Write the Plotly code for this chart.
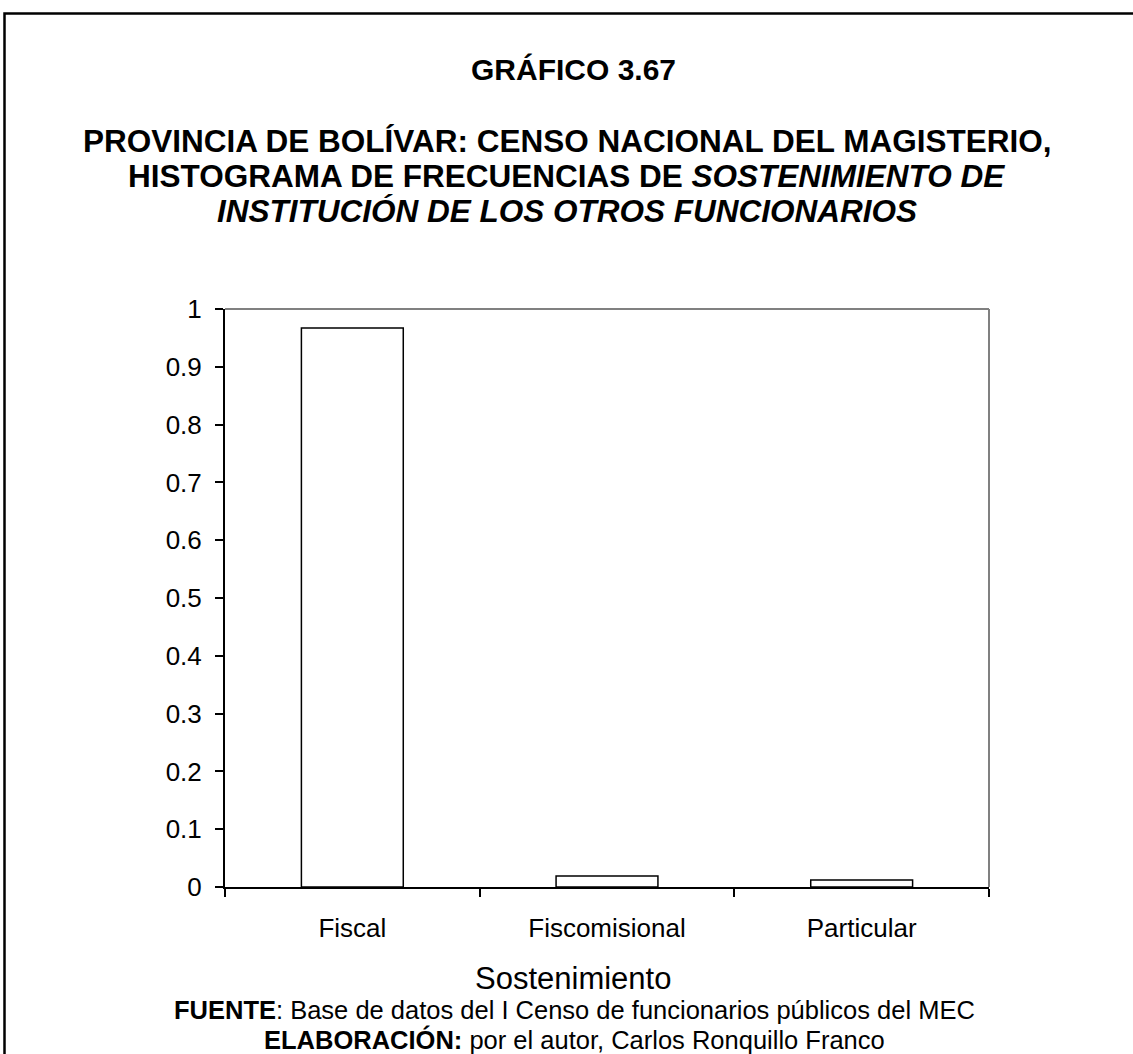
import plotly.graph_objects as go

categories = ["Fiscal", "Fiscomisional", "Particular"]
frequencies = [0.967, 0.019, 0.012]
y_ticks = [0, 0.1, 0.2, 0.3, 0.4, 0.5, 0.6, 0.7, 0.8, 0.9, 1]
y_tick_labels = ["0", "0.1", "0.2", "0.3", "0.4", "0.5", "0.6", "0.7", "0.8", "0.9", "1"]

W, H = 1133, 1054
L, R, T, B = 225, 989, 309, 887
FONT = "Liberation Sans, Arial, sans-serif"

def px(x):
    return (x - L) / (R - L)

def py(y):
    return (B - y) / (B - T)

fig = go.Figure()
fig.add_trace(go.Bar(
    x=categories, y=frequencies, width=0.4,
    marker=dict(color="white", line=dict(color="black", width=1.5)),
    showlegend=False, hoverinfo="x+y",
))

fig.update_layout(
    width=W, height=H,
    margin=dict(l=L, r=W - R, t=T, b=H - B, pad=0),
    paper_bgcolor="white", plot_bgcolor="white",
    font=dict(family=FONT, color="black", size=26),
    xaxis=dict(
        range=[-0.5, 2.5], showgrid=False, zeroline=False,
        showline=True, linecolor="black", linewidth=2,
        ticks="outside", tickson="boundaries", ticklen=8, tickcolor="black", tickwidth=1.5,
        tickfont=dict(size=26, family=FONT), ticklabelstandoff=17,
    ),
    yaxis=dict(
        range=[0, 1], showgrid=False, zeroline=False,
        showline=True, linecolor="black", linewidth=2,
        ticks="outside", ticklen=8, tickcolor="black", tickwidth=1.5,
        tickvals=y_ticks, ticktext=y_tick_labels,
        tickfont=dict(size=26, family=FONT), ticklabelstandoff=8,
    ),
)

shapes = [
    dict(type="line", xref="paper", yref="paper", x0=0, x1=1, y0=1, y1=1,
         line=dict(color="#808080", width=2)),
    dict(type="line", xref="paper", yref="paper", x0=1, x1=1, y0=0, y1=1,
         line=dict(color="#808080", width=2)),
    dict(type="rect", xref="paper", yref="paper", x0=px(4.5), x1=px(1150), y0=py(13.5), y1=py(1080),
         line=dict(color="black", width=2.5), fillcolor="rgba(0,0,0,0)", layer="below"),
]
fig.update_layout(shapes=shapes)

def ann(text, x, y, size):
    fig.add_annotation(
        text=text, xref="paper", yref="paper", x=px(x), y=py(y),
        xanchor="center", yanchor="middle", showarrow=False,
        font=dict(family=FONT, size=size, color="black"),
    )

ann("<b>GRÁFICO 3.67</b>", 573, 69, 30)
ann("<b>PROVINCIA DE BOLÍVAR: CENSO NACIONAL DEL MAGISTERIO,</b>", 566.5, 141, 31.5)
ann("<b>HISTOGRAMA DE FRECUENCIAS DE <i>SOSTENIMIENTO DE</i></b>", 566.5, 176, 31.5)
ann("<b><i>INSTITUCIÓN DE LOS OTROS FUNCIONARIOS</i></b>", 566.5, 211, 31.5)
ann("Sostenimiento", 572.5, 978, 31)
ann("<b>FUENTE</b>: Base de datos del I Censo de funcionarios públicos del MEC", 574.5, 1010, 25.5)
ann("<b>ELABORACIÓN:</b> por el autor, Carlos Ronquillo Franco", 574.5, 1039, 25.5)

fig.write_html("out.html", config={"displayModeBar": False},
               post_script="document.body.style.margin='0px';")
